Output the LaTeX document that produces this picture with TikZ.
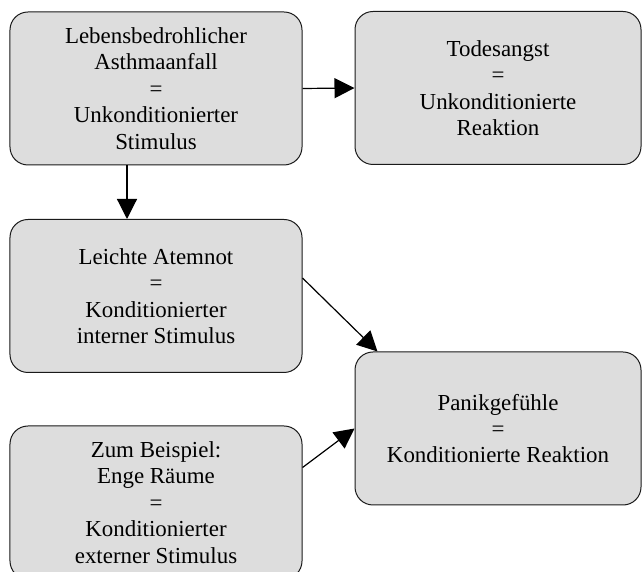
\documentclass[tikz,border=0pt]{standalone}
\usepackage{fontspec}
\setmainfont{Liberation Serif}
\definecolor{boxline}{HTML}{1A1A1A}
\definecolor{boxfill}{HTML}{DDDDDD}
\usetikzlibrary{arrows.meta}

\begin{document}
\begin{tikzpicture}[x=1bp,y=1bp,>={Triangle[length=20bp,width=20bp]},every node/.style={font=\fontsize{23}{26.5}\selectfont},
  stufe/.style={draw=boxline,fill=boxfill,rectangle,rounded corners=18bp,line width=1bp,align=center,inner sep=0pt,minimum width=292bp,minimum height=153bp}]
\useasboundingbox (0,0) rectangle (643,572);
\node[stufe] (A) at (156,483.5) {Lebensbedrohlicher\\Asthmaanfall\\=\\Unkonditionierter\\Stimulus};
\node[stufe,minimum width=286bp] (B) at (498,484) {Todesangst\\=\\Unkonditionierte\\Reaktion};
\node[stufe] (C) at (156,276) {Leichte Atemnot\\=\\Konditionierter\\interner Stimulus};
\node[stufe,minimum width=286bp] (D) at (498,143.5) {Panikgefühle\\=\\Konditionierte Reaktion};
\node[stufe] (E) at (156,69.5) {Zum Beispiel:\\Enge Räume\\=\\Konditionierter\\externer Stimulus};
\draw[->,line width=1.2bp] (A.east) -- (B.west);
\draw[->,line width=1.2bp] ([xshift=-29bp]A.south) -- ([xshift=-29bp]C.north);
\draw[->,line width=1.2bp] ([yshift=18bp]C.east) -- ([xshift=23bp]D.north west);
\draw[->,line width=1.2bp] ([yshift=35bp]E.east) -- (D.west);
\end{tikzpicture}
\end{document}
